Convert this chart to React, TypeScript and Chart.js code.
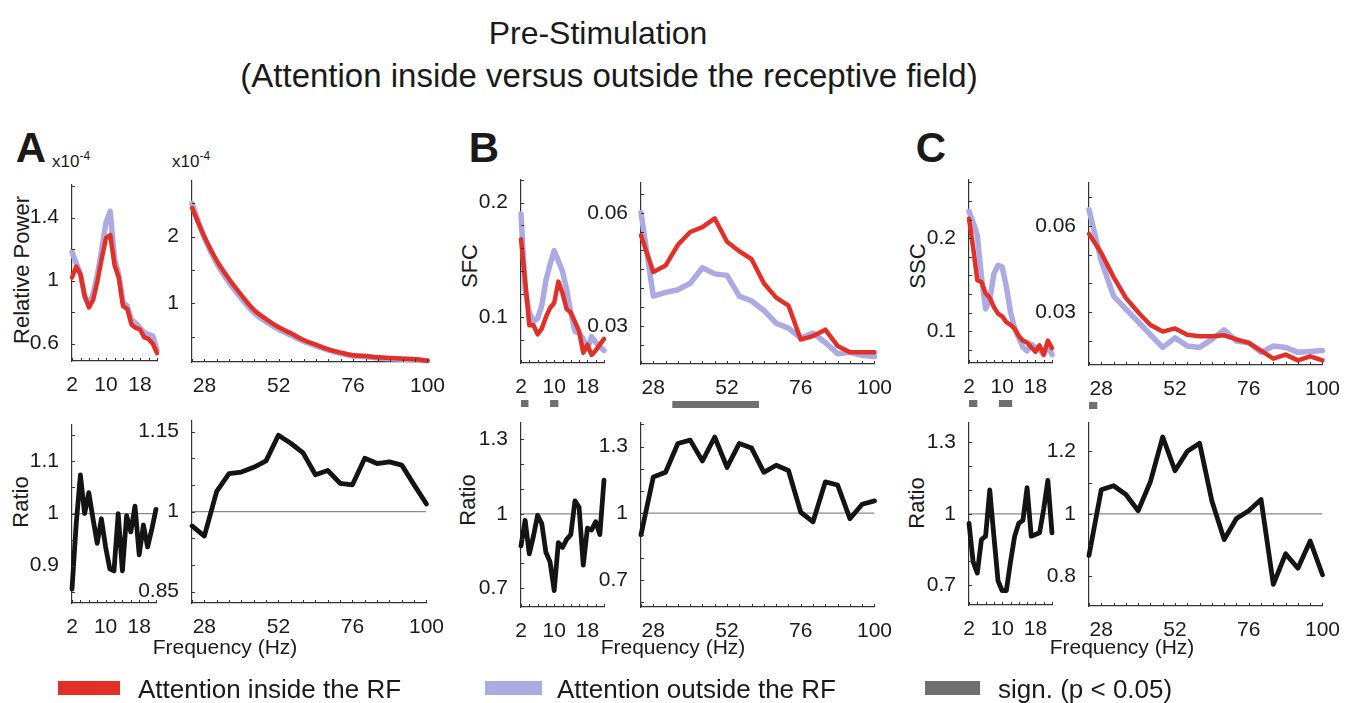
import React, { useEffect, useRef } from "react";
import { Chart, registerables } from "chart.js";

Chart.register(...registerables);

const FONT = '"Liberation Sans", Arial, Helvetica, sans-serif';
const RED = "rgb(226, 48, 38)";
const BLUE = "rgb(172, 170, 226)";
const BLACK = "#141414";
const SIG = "#707070";

// Frequency grids (Hz)
const freqLow = [2, 3, 4, 5, 6, 7, 8, 9, 10, 11, 12, 13, 14, 15, 16, 17, 18, 19, 20, 21, 22];
const freqHigh = [24, 28, 32, 36, 40, 44, 48, 52, 56, 60, 64, 68, 72, 76, 80, 84, 88, 92, 96, 100];

// A: relative power (x10^-4)
const powerLowIn = [1.02, 1.09, 1.04, 0.9, 0.83, 0.88, 1.0, 1.14, 1.27, 1.29, 1.1, 1.02, 0.84, 0.82, 0.72, 0.7, 0.69, 0.64, 0.63, 0.6, 0.54];
const powerLowOut = [1.18, 1.11, 1.04, 0.9, 0.85, 0.92, 1.04, 1.2, 1.37, 1.44, 1.14, 1.04, 0.86, 0.84, 0.75, 0.73, 0.7, 0.67, 0.66, 0.65, 0.56];
const powerHighIn = [2.43, 2.0, 1.64, 1.36, 1.12, 0.9, 0.76, 0.64, 0.55, 0.45, 0.38, 0.31, 0.26, 0.22, 0.21, 0.19, 0.18, 0.17, 0.16, 0.14];
const powerHighOut = [2.5, 1.98, 1.6, 1.31, 1.07, 0.86, 0.72, 0.61, 0.52, 0.43, 0.36, 0.3, 0.25, 0.21, 0.2, 0.18, 0.17, 0.16, 0.15, 0.14];
const powerRatioLow = [0.855, 0.98, 1.074, 1.0, 1.04, 0.99, 0.943, 0.99, 0.936, 0.894, 0.89, 1.0, 0.89, 0.996, 0.965, 1.014, 0.921, 0.978, 0.936, 0.97, 1.008];
const powerRatioHigh = [0.973, 0.954, 1.038, 1.071, 1.074, 1.083, 1.095, 1.143, 1.128, 1.11, 1.069, 1.077, 1.053, 1.05, 1.1, 1.09, 1.093, 1.087, 1.05, 1.014];

// B: spike-field coherence
const sfcLowIn = [0.168, 0.132, 0.093, 0.093, 0.085, 0.09, 0.1, 0.108, 0.1125, 0.131, 0.121, 0.107, 0.104, 0.096, 0.0875, 0.069, 0.076, 0.067, 0.071, 0.076, 0.081];
const sfcLowOut = [0.19, 0.124, 0.104, 0.096, 0.099, 0.11, 0.132, 0.146, 0.158, 0.149, 0.14, 0.124, 0.104, 0.0875, 0.086, 0.081, 0.072, 0.083, 0.078, 0.074, 0.071];
const sfcHighIn = [0.054, 0.0443, 0.046, 0.0515, 0.0549, 0.0562, 0.0585, 0.0523, 0.0498, 0.0477, 0.0413, 0.0375, 0.0354, 0.0264, 0.0273, 0.029, 0.0247, 0.023, 0.023, 0.023];
const sfcHighOut = [0.06, 0.0379, 0.0389, 0.0396, 0.0413, 0.0454, 0.0438, 0.0434, 0.0379, 0.0366, 0.0341, 0.0307, 0.0294, 0.0268, 0.0281, 0.0256, 0.0226, 0.023, 0.0222, 0.0219];
const sfcRatioLow = [0.871, 0.974, 0.838, 0.91, 0.994, 0.961, 0.845, 0.806, 0.69, 0.884, 0.864, 0.897, 0.916, 1.052, 1.026, 0.793, 0.942, 0.935, 0.968, 0.916, 1.136];
const sfcRatioHigh = [0.903, 1.163, 1.184, 1.314, 1.329, 1.235, 1.343, 1.206, 1.314, 1.293, 1.184, 1.216, 1.192, 1.004, 0.961, 1.141, 1.127, 0.975, 1.04, 1.055];

// C: spike-spike coherence
const sscLowIn = [0.221, 0.19, 0.155, 0.153, 0.141, 0.136, 0.126, 0.119, 0.116, 0.11, 0.107, 0.103, 0.095, 0.09, 0.088, 0.083, 0.078, 0.085, 0.075, 0.09, 0.082];
const sscLowOut = [0.229, 0.217, 0.203, 0.159, 0.124, 0.134, 0.162, 0.171, 0.169, 0.148, 0.121, 0.103, 0.093, 0.083, 0.079, 0.086, 0.083, 0.08, 0.075, 0.085, 0.075];
const sscHighIn = [0.0572, 0.0506, 0.0422, 0.035, 0.03, 0.0256, 0.0233, 0.0244, 0.0222, 0.0217, 0.0217, 0.022, 0.0206, 0.0194, 0.0167, 0.0139, 0.0153, 0.0133, 0.0147, 0.0133];
const sscHighOut = [0.0656, 0.0478, 0.0356, 0.0311, 0.0267, 0.0222, 0.0178, 0.0211, 0.0183, 0.0178, 0.0206, 0.0239, 0.02, 0.0194, 0.0161, 0.0183, 0.0178, 0.0161, 0.0164, 0.0167];
const sscRatioLow = [0.96, 0.798, 0.751, 0.892, 0.906, 1.1, 0.906, 0.718, 0.677, 0.677, 0.798, 0.906, 0.96, 0.973, 1.11, 0.906, 0.913, 0.92, 1.02, 1.14, 0.92];
const sscRatioHigh = [0.867, 1.077, 1.09, 1.062, 1.01, 1.103, 1.246, 1.138, 1.2, 1.226, 1.041, 0.918, 0.985, 1.01, 1.046, 0.774, 0.872, 0.826, 0.913, 0.805];

// Significant frequency ranges (p < 0.05)
const sfcSigLow = [[2, 3.8], [9, 11]];
const sfcSigHigh = [[34.2, 62.4]];
const sscSigLow = [[2, 4], [9.2, 12.4]];
const sscSigHigh = [[24, 26.7]];

// Axis ticks
const lowTicks = [2, 4, 6, 8, 10, 12, 14, 16, 18, 20, 22];
const lowTickLabels = [2, 10, 18];
const highTicks = [24, 28, 32, 36, 40, 44, 48, 52, 56, 60, 64, 68, 72, 76, 80, 84, 88, 92, 96, 100];
const highTickLabels = [28, 52, 76, 100];

type Series = { y: number[]; color: string; width: number; tension?: number };
type PanelCfg = {
  box: { left: number; top: number; right: number; bottom: number };
  low: boolean;
  yMin: number;
  yMax: number;
  yTicks: number[];
  yLabels: number[];
  series: Series[];
  unity?: boolean;
  sig?: number[][];
};

const near = (list: number[], v: number) => list.some((l) => Math.abs(l - v) < 1e-9);
const fmt = (v: number) => String(Number(v.toFixed(4)));

// Short tick marks drawn inward from the axis lines
const innerTicks = {
  id: "innerTicks",
  afterDraw(chart: any) {
    const { ctx, chartArea, scales } = chart;
    ctx.save();
    ctx.strokeStyle = "#333";
    ctx.lineWidth = 1;
    ctx.beginPath();
    scales.x.ticks.forEach((t: any) => {
      const px = Math.round(scales.x.getPixelForValue(t.value)) + 0.5;
      ctx.moveTo(px, chartArea.bottom);
      ctx.lineTo(px, chartArea.bottom - 3);
    });
    scales.y.ticks.forEach((t: any) => {
      const py = Math.round(scales.y.getPixelForValue(t.value)) + 0.5;
      ctx.moveTo(chartArea.left, py);
      ctx.lineTo(chartArea.left + 3, py);
    });
    ctx.stroke();
    ctx.restore();
  },
};

// Grey bars marking significant frequency ranges below the x axis
const sigBars = {
  id: "sigBars",
  afterDraw(chart: any, _args: any, opts: any) {
    if (!opts || !opts.ranges || !opts.ranges.length) return;
    const { ctx, chartArea, scales } = chart;
    ctx.save();
    ctx.fillStyle = SIG;
    const y = chartArea.bottom + opts.offset;
    opts.ranges.forEach(([a, b]: number[]) => {
      const x0 = scales.x.getPixelForValue(a);
      const x1 = scales.x.getPixelForValue(b);
      ctx.fillRect(x0, y, x1 - x0, opts.thickness);
    });
    ctx.restore();
  },
};

const YW = 66;
const XH = 52;
const PT = 10;
const PR = 16;

function Panel({ cfg }: { cfg: PanelCfg }) {
  const ref = useRef<HTMLCanvasElement>(null);
  const { left, top, right, bottom } = cfg.box;
  const w = YW + (right - left) + PR;
  const h = PT + (bottom - top) + XH;

  useEffect(() => {
    const xs = cfg.low ? freqLow : freqHigh;
    const xTicks = cfg.low ? lowTicks : highTicks;
    const xLabels = cfg.low ? lowTickLabels : highTickLabels;
    const xMin = cfg.low ? 2 : 24;
    const xMax = cfg.low ? 22 : 100;
    const datasets: any[] = cfg.series.map((s) => ({
      data: xs.map((x, i) => ({ x, y: s.y[i] })),
      borderColor: s.color,
      borderWidth: s.width,
      pointRadius: 0,
      tension: s.tension || 0,
      borderJoinStyle: "round",
      borderCapStyle: "round",
      fill: false,
      clip: 8,
    }));
    if (cfg.unity) {
      datasets.push({
        data: [
          { x: xMin, y: 1 },
          { x: xMax, y: 1 },
        ],
        borderColor: "#8a8a8a",
        borderWidth: 1.3,
        pointRadius: 0,
      });
    }
    const tickFont = { family: FONT, size: 21 };
    const chart = new Chart(ref.current as HTMLCanvasElement, {
      type: "line",
      data: { datasets },
      options: {
        animation: false,
        responsive: false,
        devicePixelRatio: 1,
        events: [],
        layout: { padding: { top: PT, right: PR, left: 0, bottom: 0 } },
        plugins: {
          legend: { display: false },
          tooltip: { enabled: false },
          sigBars: { ranges: cfg.sig || [], offset: 37, thickness: 7 },
        } as any,
        scales: {
          x: {
            type: "linear",
            min: xMin,
            max: xMax,
            grid: { display: false },
            border: { display: true, color: "#333", width: 1.2 },
            afterBuildTicks: (s: any) => {
              s.ticks = xTicks.map((v) => ({ value: v }));
            },
            afterFit: (s: any) => {
              s.height = XH;
            },
            ticks: {
              autoSkip: false,
              maxRotation: 0,
              minRotation: 0,
              padding: 4,
              color: "#1a1a1a",
              font: tickFont,
              callback: (v: any) => (near(xLabels, Number(v)) ? fmt(Number(v)) : ""),
            },
          },
          y: {
            type: "linear",
            min: cfg.yMin,
            max: cfg.yMax,
            grid: { display: false },
            border: { display: true, color: "#333", width: 1.2 },
            afterBuildTicks: (s: any) => {
              s.ticks = cfg.yTicks.map((v) => ({ value: v }));
            },
            afterFit: (s: any) => {
              s.width = YW;
            },
            ticks: {
              autoSkip: false,
              padding: 5,
              color: "#1a1a1a",
              font: tickFont,
              callback: (v: any) => (near(cfg.yLabels, Number(v)) ? fmt(Number(v)) : ""),
            },
          },
        },
      },
      plugins: [innerTicks, sigBars],
    });
    return () => chart.destroy();
  }, []);

  return (
    <canvas
      ref={ref}
      width={w}
      height={h}
      style={{ position: "absolute", left: left - YW, top: top - PT, width: w, height: h }}
    />
  );
}

const panels: PanelCfg[] = [
  {
    box: { left: 72, top: 177, right: 157, bottom: 361 },
    low: true,
    yMin: 0.49,
    yMax: 1.61,
    yTicks: [0.6, 0.8, 1.0, 1.2, 1.4, 1.6],
    yLabels: [0.6, 1, 1.4],
    series: [
      { y: powerLowIn, color: RED, width: 4.5 },
      { y: powerLowOut, color: BLUE, width: 5.5 },
    ],
  },
  {
    box: { left: 192, top: 173, right: 433, bottom: 362 },
    low: false,
    yMin: 0.12,
    yMax: 2.84,
    yTicks: [0.5, 1, 1.5, 2, 2.5],
    yLabels: [1, 2],
    series: [
      { y: powerHighIn, color: RED, width: 4.5, tension: 0.35 },
      { y: powerHighOut, color: BLUE, width: 5.5, tension: 0.35 },
    ],
  },
  {
    box: { left: 72, top: 417, right: 156, bottom: 603 },
    low: true,
    yMin: 0.8285,
    yMax: 1.1705,
    yTicks: [0.85, 0.9, 0.95, 1, 1.05, 1.1, 1.15],
    yLabels: [0.9, 1, 1.1],
    series: [{ y: powerRatioLow, color: BLACK, width: 4.8 }],
    unity: true,
  },
  {
    box: { left: 192, top: 413, right: 432, bottom: 603 },
    low: false,
    yMin: 0.8285,
    yMax: 1.1705,
    yTicks: [0.85, 0.9, 0.95, 1, 1.05, 1.1, 1.15],
    yLabels: [0.85, 1, 1.15],
    series: [{ y: powerRatioHigh, color: BLACK, width: 4.8 }],
    unity: true,
  },
  {
    box: { left: 521, top: 172, right: 604, bottom: 363 },
    low: true,
    yMin: 0.06,
    yMax: 0.22,
    yTicks: [0.08, 0.1, 0.12, 0.14, 0.16, 0.18, 0.2, 0.22],
    yLabels: [0.1, 0.2],
    series: [
      { y: sfcLowIn, color: RED, width: 4.5 },
      { y: sfcLowOut, color: BLUE, width: 5.5 },
    ],
    sig: sfcSigLow,
  },
  {
    box: { left: 641, top: 175, right: 880, bottom: 364 },
    low: false,
    yMin: 0.0199,
    yMax: 0.068,
    yTicks: [0.025, 0.03, 0.035, 0.04, 0.045, 0.05, 0.055, 0.06, 0.065],
    yLabels: [0.03, 0.06],
    series: [
      { y: sfcHighIn, color: RED, width: 4.5 },
      { y: sfcHighOut, color: BLUE, width: 5.5 },
    ],
    sig: sfcSigHigh,
  },
  {
    box: { left: 521, top: 415, right: 604, bottom: 607 },
    low: true,
    yMin: 0.624,
    yMax: 1.368,
    yTicks: [0.7, 0.8, 0.9, 1, 1.1, 1.2, 1.3],
    yLabels: [0.7, 1, 1.3],
    series: [{ y: sfcRatioLow, color: BLACK, width: 4.8 }],
    unity: true,
  },
  {
    box: { left: 641, top: 415, right: 880, bottom: 607 },
    low: false,
    yMin: 0.577,
    yMax: 1.408,
    yTicks: [0.6, 0.7, 0.8, 0.9, 1, 1.1, 1.2, 1.3, 1.4],
    yLabels: [0.7, 1, 1.3],
    series: [{ y: sfcRatioHigh, color: BLACK, width: 4.8 }],
    unity: true,
  },
  {
    box: { left: 969, top: 172, right: 1052, bottom: 363 },
    low: true,
    yMin: 0.066,
    yMax: 0.263,
    yTicks: [0.08, 0.1, 0.12, 0.14, 0.16, 0.18, 0.2, 0.22, 0.24, 0.26],
    yLabels: [0.1, 0.2],
    series: [
      { y: sscLowIn, color: RED, width: 4.5 },
      { y: sscLowOut, color: BLUE, width: 5.5 },
    ],
    sig: sscSigLow,
  },
  {
    box: { left: 1089, top: 175, right: 1328, bottom: 365 },
    low: false,
    yMin: 0.0117,
    yMax: 0.075,
    yTicks: [0.02, 0.03, 0.04, 0.05, 0.06, 0.07],
    yLabels: [0.03, 0.06],
    series: [
      { y: sscHighIn, color: RED, width: 4.5 },
      { y: sscHighOut, color: BLUE, width: 5.5 },
    ],
    sig: sscSigHigh,
  },
  {
    box: { left: 969, top: 415, right: 1052, bottom: 605 },
    low: true,
    yMin: 0.617,
    yMax: 1.383,
    yTicks: [0.7, 0.8, 0.9, 1, 1.1, 1.2, 1.3],
    yLabels: [0.7, 1, 1.3],
    series: [{ y: sscRatioLow, color: BLACK, width: 4.8 }],
    unity: true,
  },
  {
    box: { left: 1089, top: 415, right: 1328, bottom: 606 },
    low: false,
    yMin: 0.705,
    yMax: 1.292,
    yTicks: [0.8, 0.9, 1, 1.1, 1.2],
    yLabels: [0.8, 1, 1.2],
    series: [{ y: sscRatioHigh, color: BLACK, width: 4.8 }],
    unity: true,
  },
];

function Txt({
  x,
  y,
  size,
  children,
  bold,
  rotate,
  anchor = "center",
}: {
  x: number;
  y: number;
  size: number;
  children: React.ReactNode;
  bold?: boolean;
  rotate?: boolean;
  anchor?: "center" | "left";
}) {
  const tx = anchor === "center" ? "-50%" : "0";
  return (
    <div
      style={{
        position: "absolute",
        left: x,
        top: y,
        transform: `translate(${tx}, -50%)${rotate ? " rotate(-90deg)" : ""}`,
        transformOrigin: rotate ? "center center" : undefined,
        whiteSpace: "nowrap",
        fontFamily: FONT,
        fontSize: size,
        fontWeight: bold ? 700 : 400,
        color: "#1a1a1a",
        lineHeight: 1,
      }}
    >
      {children}
    </div>
  );
}

function Exponent({ x, y }: { x: number; y: number }) {
  return (
    <Txt x={x} y={y} size={17} anchor="left">
      x10<sup style={{ fontSize: 12, verticalAlign: "7px" }}>-4</sup>
    </Txt>
  );
}

function Swatch({ x, color, w }: { x: number; color: string; w: number }) {
  return (
    <div style={{ position: "absolute", left: x, top: 681, width: w, height: 14, background: color }} />
  );
}

export default function App() {
  return (
    <div
      style={{
        position: "absolute",
        left: 0,
        top: 0,
        width: 1347,
        height: 703,
        background: "#fff",
        overflow: "hidden",
      }}
    >
      <Txt x={598} y={33} size={32}>Pre-Stimulation</Txt>
      <Txt x={609} y={75} size={33}>(Attention inside versus outside the receptive field)</Txt>

      <Txt x={31} y={148} size={42} bold>A</Txt>
      <Txt x={484} y={148} size={42} bold>B</Txt>
      <Txt x={931} y={148} size={42} bold>C</Txt>

      <Exponent x={52} y={160} />
      <Exponent x={172} y={160} />

      <Txt x={22} y={270} size={22} rotate>Relative Power</Txt>
      <Txt x={21} y={502} size={22} rotate>Ratio</Txt>
      <Txt x={470} y={266} size={22} rotate>SFC</Txt>
      <Txt x={468} y={500} size={22} rotate>Ratio</Txt>
      <Txt x={918} y={266} size={22} rotate>SSC</Txt>
      <Txt x={917} y={503} size={22} rotate>Ratio</Txt>

      {panels.map((p, i) => (
        <Panel key={i} cfg={p} />
      ))}

      <Txt x={225} y={646} size={21}>Frequency (Hz)</Txt>
      <Txt x={673} y={646} size={21}>Frequency (Hz)</Txt>
      <Txt x={1122} y={646} size={21}>Frequency (Hz)</Txt>

      <Swatch x={58} w={62} color={RED} />
      <Txt x={138} y={689} size={26} anchor="left">Attention inside the RF</Txt>
      <Swatch x={485} w={57} color={BLUE} />
      <Txt x={557} y={689} size={26} anchor="left">Attention outside the RF</Txt>
      <Swatch x={925} w={55} color={SIG} />
      <Txt x={998} y={689} size={26} anchor="left">sign. (p &lt; 0.05)</Txt>
    </div>
  );
}
